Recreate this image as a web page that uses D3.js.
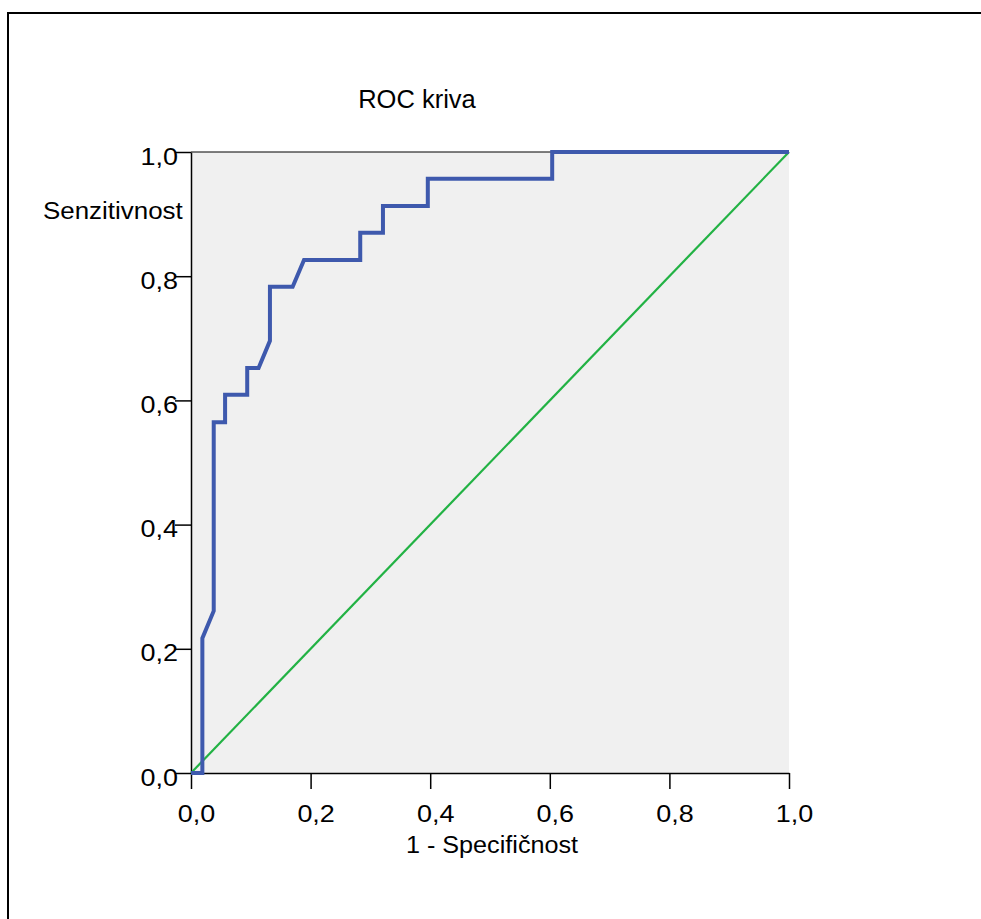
<!DOCTYPE html>
<html>
<head>
<meta charset="utf-8">
<script src="https://cdn.jsdelivr.net/npm/d3@7"></script>
<style>
  html, body { margin: 0; padding: 0; background: #ffffff; }
  svg text { font-family: "Liberation Sans", Arial, sans-serif; fill: #000; }
</style>
</head>
<body>
<script>
// ROC curve points (1 - specificity, sensitivity)
const fpr = [0, 0.019, 0.019, 0.038, 0.038, 0.057, 0.057, 0.094, 0.094, 0.113, 0.132, 0.132, 0.170, 0.189, 0.283, 0.283, 0.321, 0.321, 0.396, 0.396, 0.604, 0.604, 1.0];
const tpr = [0, 0, 0.217, 0.261, 0.565, 0.565, 0.609, 0.609, 0.652, 0.652, 0.696, 0.783, 0.783, 0.826, 0.826, 0.870, 0.870, 0.913, 0.913, 0.957, 0.957, 1.0, 1.0];
const refX = [0, 1];
const refY = [0, 1];
const tickValues = [0, 0.2, 0.4, 0.6, 0.8, 1.0];
const tickLabels = ["0,0", "0,2", "0,4", "0,6", "0,8", "1,0"];
const titleText = "ROC kriva";
const xTitle = "1 - Specifičnost";
const yTitle = "Senzitivnost";

const W = 981, H = 919;
const svg = d3.select("body").append("svg").attr("width", W).attr("height", H);

// outer frame
svg.append("rect").attr("x", 8).attr("y", 13).attr("width", W + 20).attr("height", H + 20)
  .attr("fill", "none").attr("stroke", "#000").attr("stroke-width", 2);

const pL = 191, pR = 789, pT = 152, pB = 773;
const x = d3.scaleLinear().domain([0, 1]).range([pL, pR]);
const y = d3.scaleLinear().domain([0, 1]).range([pB, pT]);

svg.append("rect").attr("x", pL).attr("y", pT).attr("width", pR - pL).attr("height", pB - pT)
  .attr("fill", "#f0f0f0");

// top border of plot
svg.append("line").attr("x1", pL).attr("x2", pR).attr("y1", pT).attr("y2", pT)
  .attr("stroke", "#000").attr("stroke-width", 1.2);

const fmt = d => tickLabels[tickValues.indexOf(d)];
const tickScale = 1.1;

const xAxis = svg.append("g").attr("transform", `translate(0,${pB})`)
  .call(d3.axisBottom(x).tickValues(tickValues).tickFormat(fmt).tickSize(16).tickSizeOuter(0));
const yAxis = svg.append("g").attr("transform", `translate(${pL},0)`)
  .call(d3.axisLeft(y).tickValues(tickValues).tickFormat(fmt).tickSize(16).tickSizeOuter(0));

[xAxis, yAxis].forEach(g => {
  g.selectAll("path.domain").attr("stroke", "#000").attr("stroke-width", 1.5);
  g.selectAll(".tick line").attr("stroke", "#000").attr("stroke-width", 1.5);
  g.selectAll(".tick text").attr("font-size", 24.5).attr("font-family", "Liberation Sans, Arial, sans-serif")
    .attr("fill", "#000").attr("dy", "0").attr("transform", `scale(${tickScale},1)`);
});
xAxis.selectAll(".tick text").attr("y", 49).attr("x", 5 / tickScale);
yAxis.selectAll(".tick text").attr("x", -13 / tickScale).attr("y", 12);

// reference diagonal
const line = d3.line().x(d => x(d[0])).y(d => y(d[1]));
svg.append("path").datum(refX.map((v, i) => [v, refY[i]]))
  .attr("d", line).attr("fill", "none").attr("stroke", "#22b244").attr("stroke-width", 2.2);

// ROC curve
svg.append("path").datum(fpr.map((v, i) => [v, tpr[i]]))
  .attr("d", line).attr("fill", "none").attr("stroke", "#3e59ad").attr("stroke-width", 4)
  .attr("stroke-linejoin", "miter");

function stretchedText(txt, px, py, size, sx, anchor) {
  svg.append("text").attr("transform", `translate(${px},${py}) scale(${sx},1)`)
    .attr("text-anchor", anchor).attr("font-size", size).text(txt);
}
stretchedText(titleText, 417, 108, 25.5, 1.0, "middle");
stretchedText(yTitle, 43, 219, 24, 1.08, "start");
stretchedText(xTitle, 492, 853, 24, 1.05, "middle");
</script>
</body>
</html>
